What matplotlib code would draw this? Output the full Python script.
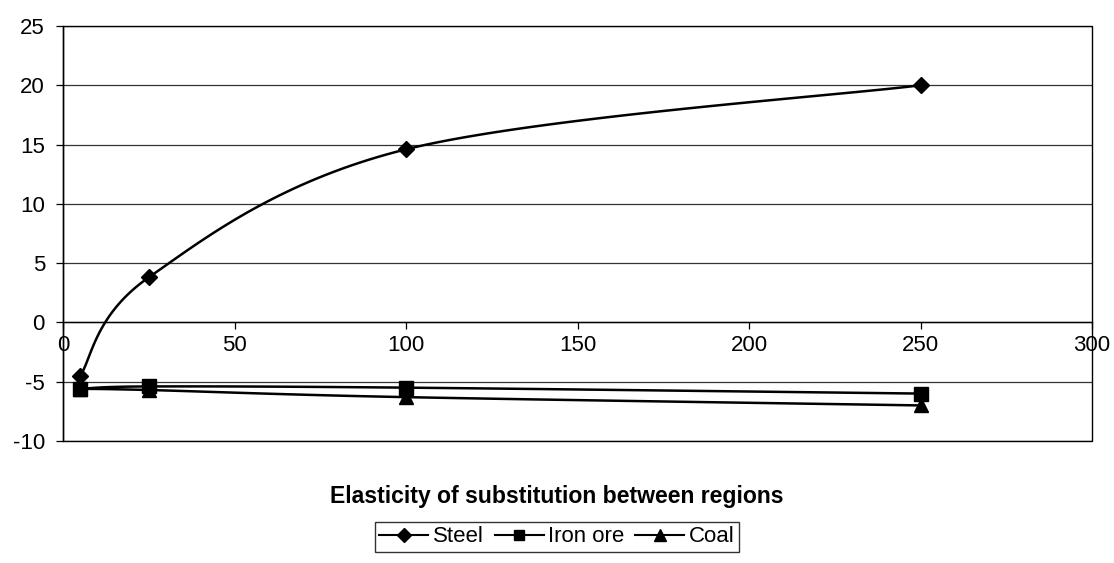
import numpy as np
import matplotlib
matplotlib.use("Agg")
import matplotlib.pyplot as plt
from matplotlib.patches import Rectangle

plt.rcParams['font.family'] = ['Liberation Sans', 'DejaVu Sans']
plt.rcParams['axes.unicode_minus'] = False

elasticity = [5, 25, 100, 250]
steel = [-4.5, 3.8, 14.6, 20.0]
iron_ore = [-5.6, -5.4, -5.5, -6.0]
coal = [-5.6, -5.7, -6.3, -7.0]

x_ticks = [0, 50, 100, 150, 200, 250, 300]
y_ticks = [-10, -5, 0, 5, 10, 15, 20, 25]


def smooth(xs, ys, n=40):
    """Cardinal (Catmull-Rom) Bezier smoothing between consecutive points."""
    xs = np.asarray(xs, float)
    ys = np.asarray(ys, float)
    px = np.concatenate([[xs[0]], xs, [xs[-1]]])
    py = np.concatenate([[ys[0]], ys, [ys[-1]]])
    out_x, out_y = [], []
    t = np.linspace(0, 1, n)
    for i in range(1, len(px) - 2):
        p0 = np.array([px[i], py[i]])
        p3 = np.array([px[i + 1], py[i + 1]])
        p1 = p0 + (np.array([px[i + 1], py[i + 1]]) - np.array([px[i - 1], py[i - 1]])) / 6
        p2 = p3 - (np.array([px[i + 2], py[i + 2]]) - np.array([px[i], py[i]])) / 6
        b = ((1 - t) ** 3)[:, None] * p0 + (3 * (1 - t) ** 2 * t)[:, None] * p1 \
            + (3 * (1 - t) * t ** 2)[:, None] * p2 + (t ** 3)[:, None] * p3
        out_x.extend(b[:, 0])
        out_y.extend(b[:, 1])
    return np.array(out_x), np.array(out_y)


fig = plt.figure(figsize=(11.14, 5.63), dpi=100)
ax = fig.add_axes([63 / 1114, 1 - 441 / 563, (1092 - 63) / 1114, (441 - 26) / 563])

ax.set_xlim(0, 300)
ax.set_ylim(-10, 25)
ax.set_xticks(x_ticks)
ax.set_yticks(y_ticks)

for yv in y_ticks:
    ax.axhline(yv, color='#333333', lw=0.9, zorder=1)

series = [
    ('Steel', steel, 'D', 8.5, 7),
    ('Iron ore', iron_ore, 's', 9.5, 7.5),
    ('Coal', coal, '^', 10.5, 8.5),
]
handles = []
for name, vals, mk, ms, lms in series:
    sx, sy = smooth(elasticity, vals)
    ax.plot(sx, sy, color='black', lw=1.8, zorder=3)
    ax.plot(elasticity, vals, linestyle='none', marker=mk, ms=ms,
            color='black', zorder=4)
    h, = ax.plot([], [], color='black', lw=1.5, marker=mk, ms=lms, label=name)
    handles.append(h)

# x axis crosses at y = 0
ax.spines['bottom'].set_position(('data', 0))
ax.spines['bottom'].set_linewidth(1.0)
ax.spines['left'].set_linewidth(1.0)
ax.spines['top'].set_visible(False)
ax.spines['right'].set_visible(False)
ax.add_patch(Rectangle((0, 0), 1, 1, transform=ax.transAxes, fill=False,
                       edgecolor='black', lw=1.0, zorder=5, clip_on=False))

ax.tick_params(axis='both', direction='out', length=5, width=0.9,
               labelsize=16, colors='black')
ax.tick_params(axis='x', pad=4)
ax.tick_params(axis='y', pad=8)

fig.text(557 / 1114, 1 - 497 / 563, 'Elasticity of substitution between regions',
         ha='center', va='center', fontsize=16.6, fontweight='bold')

leg = fig.legend(handles=handles, loc='center', ncol=3,
                 bbox_to_anchor=(557 / 1114, 1 - 537 / 563),
                 fontsize=16, frameon=True, fancybox=False,
                 edgecolor='black', handlelength=2.2, handletextpad=0.2,
                 columnspacing=0.5, borderpad=0.2)
leg.get_frame().set_linewidth(1.0)

fig.savefig('out.png', dpi=100)
